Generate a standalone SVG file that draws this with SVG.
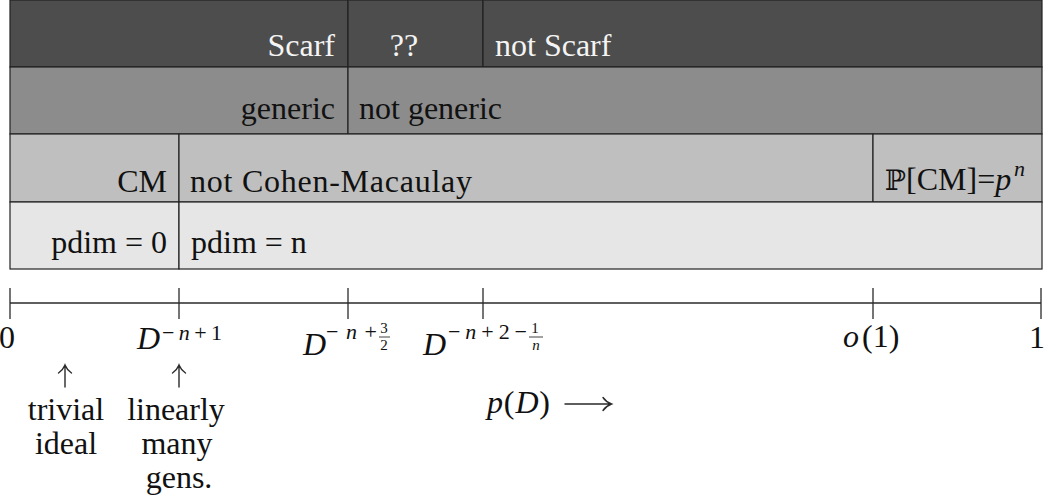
<svg xmlns="http://www.w3.org/2000/svg" width="1045" height="497" viewBox="0 0 1045 497">
<g id="bands" stroke="#222" stroke-width="1.2">
  <g id="cell-scarf">
    <rect x="10" y="0" width="338" height="67" fill="#4d4d4d"/>
  </g>
  <g id="cell-unknown">
    <rect x="348" y="0" width="135" height="67" fill="#4d4d4d"/>
  </g>
  <g id="cell-notscarf">
    <rect x="483" y="0" width="559" height="67" fill="#4d4d4d"/>
  </g>
  <g id="cell-generic">
    <rect x="10" y="67" width="338" height="67" fill="#8c8c8c"/>
  </g>
  <g id="cell-notgeneric">
    <rect x="348" y="67" width="694" height="67" fill="#8c8c8c"/>
  </g>
  <g id="cell-cm">
    <rect x="10" y="134" width="169" height="68" fill="#bfbfbf"/>
  </g>
  <g id="cell-notcm">
    <rect x="179" y="134" width="694" height="68" fill="#bfbfbf"/>
  </g>
  <g id="cell-pcm">
    <rect x="873" y="134" width="169" height="68" fill="#bfbfbf"/>
  </g>
  <g id="cell-pdim0">
    <rect x="10" y="202" width="169" height="67" fill="#e6e6e6"/>
  </g>
  <g id="cell-pdimn">
    <rect x="179" y="202" width="863" height="67" fill="#e6e6e6"/>
  </g>
</g>

<g id="band-labels" font-size="32" fill="#111">
  <text x="335" y="56" text-anchor="end" fill="#f4f4f4" font-family="Liberation Serif">Scarf</text>
  <text x="404" y="56" text-anchor="middle" fill="#f4f4f4" font-family="Liberation Serif">??</text>
  <text x="495" y="56" fill="#f4f4f4" font-family="Liberation Serif">not Scarf</text>
  <text x="335" y="119" text-anchor="end" font-family="Liberation Serif">generic</text>
  <text x="359" y="119" font-family="Liberation Serif">not generic</text>
  <text x="167" y="192" text-anchor="end" font-family="Liberation Serif">CM</text>
  <text x="190" y="192" textLength="282" font-family="Liberation Serif">not Cohen-Macaulay</text>
  <text x="885" y="190" font-family="Liberation Serif"><tspan font-family="DejaVu Serif" font-size="28">ℙ</tspan>[CM]=<tspan font-style="italic">p</tspan></text>
  <text x="1014" y="176" font-size="22" font-style="italic" font-family="Liberation Serif">n</text>
  <text x="167" y="253" text-anchor="end" font-family="Liberation Serif">pdim = 0</text>
  <text x="191" y="253" font-family="Liberation Serif">pdim = n</text>
</g>

<g id="axis" stroke="#2a2a2a" stroke-width="1.3" fill="none">
  <line x1="10" y1="303" x2="1041" y2="303"/>
  <line x1="10" y1="288" x2="10" y2="319"/>
  <line x1="179" y1="288" x2="179" y2="319"/>
  <line x1="348" y1="288" x2="348" y2="319"/>
  <line x1="483" y1="288" x2="483" y2="319"/>
  <line x1="873" y1="288" x2="873" y2="319"/>
  <line x1="1041" y1="288" x2="1041" y2="319"/>
</g>

<g id="tick-labels" font-size="32" fill="#111">
  <g id="label-0">
    <text x="-1" y="348" font-family="Liberation Serif">0</text>
  </g>
  <g id="label-d1">
    <text x="137" y="349" font-style="italic" font-family="Liberation Serif">D</text>
    <text x="162" y="340" font-size="22" textLength="60" lengthAdjust="spacing" font-family="Liberation Serif">−<tspan font-style="italic">n</tspan>+1</text>
  </g>
  <g id="label-d32">
    <text x="303" y="355" font-style="italic" font-family="Liberation Serif">D</text>
    <text x="326" y="339" font-size="22" textLength="51" lengthAdjust="spacing" font-family="Liberation Serif">−<tspan font-style="italic">n</tspan>+</text>
    <text x="384" y="333" font-size="15" text-anchor="middle" font-family="Liberation Serif">3</text>
    <line x1="379" y1="337" x2="390" y2="337" stroke="#111" stroke-width="0.8"/>
    <text x="384" y="350" font-size="15" text-anchor="middle" font-family="Liberation Serif">2</text>
  </g>
  <g id="label-d2n">
    <text x="423" y="355" font-style="italic" font-family="Liberation Serif">D</text>
    <text x="448" y="339" font-size="22" textLength="79" lengthAdjust="spacing" font-family="Liberation Serif">−<tspan font-style="italic">n</tspan>+2−</text>
    <text x="535" y="333" font-size="15" text-anchor="middle" font-family="Liberation Serif">1</text>
    <line x1="529" y1="337" x2="543" y2="337" stroke="#111" stroke-width="0.8"/>
    <text x="536" y="350" font-size="15" font-style="italic" text-anchor="middle" font-family="Liberation Serif">n</text>
  </g>
  <g id="label-o1">
    <text x="843" y="347" font-family="Liberation Serif"><tspan font-style="italic">o</tspan><tspan x="862">(1)</tspan></text>
  </g>
  <g id="label-1">
    <text x="1045" y="348" text-anchor="end" font-family="Liberation Serif">1</text>
  </g>
</g>

<g id="annotations" font-size="32" fill="#111">
  <g id="note-trivial">
    <path d="M65,387 V365 M58.5,373 Q63,370 65,365 Q67,370 71.5,373" stroke="#2a2a2a" stroke-width="1.4" fill="none" stroke-linecap="round"/>
    <text x="66" y="420" text-anchor="middle" font-family="Liberation Serif">trivial</text>
    <text x="66" y="454" text-anchor="middle" font-family="Liberation Serif">ideal</text>
  </g>
  <g id="note-linear">
    <path d="M179,387 V365 M172.5,373 Q177,370 179,365 Q181,370 185.5,373" stroke="#2a2a2a" stroke-width="1.4" fill="none" stroke-linecap="round"/>
    <text x="176" y="420" text-anchor="middle" font-family="Liberation Serif">linearly</text>
    <text x="177" y="454" text-anchor="middle" font-family="Liberation Serif">many</text>
    <text x="179" y="488" text-anchor="middle" font-family="Liberation Serif">gens.</text>
  </g>
  <g id="note-pd">
    <text x="487" y="413" textLength="63" lengthAdjust="spacing" font-family="Liberation Serif"><tspan font-style="italic">p</tspan>(<tspan font-style="italic">D</tspan>)</text>
    <path d="M565,404 H611 M603,397.5 Q606,402 611.5,404 Q606,406 603,410.5" stroke="#2a2a2a" stroke-width="1.4" fill="none" stroke-linecap="round"/>
  </g>
</g>
</svg>
